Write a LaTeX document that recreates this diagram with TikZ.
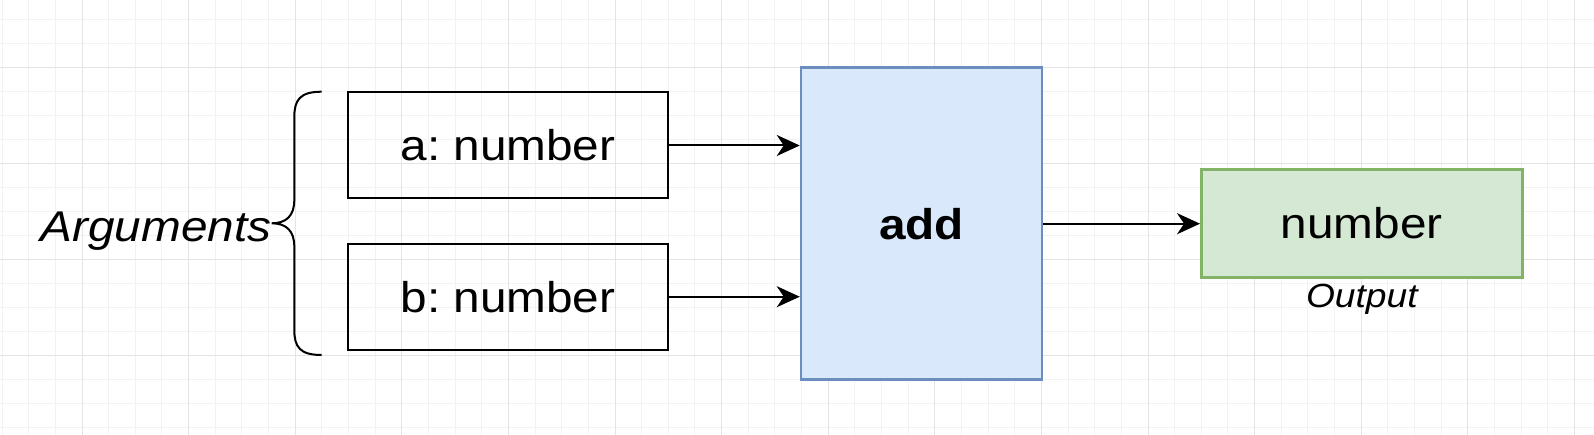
\documentclass[tikz,border=0pt]{standalone}
\usepackage{fontspec}
\setmainfont{Liberation Sans}
\usetikzlibrary{arrows.meta,positioning}

\definecolor{addfill}{HTML}{DAE8FC}
\definecolor{addline}{HTML}{6C8EBF}
\definecolor{outfill}{HTML}{D5E8D4}
\definecolor{outline}{HTML}{82B366}
\definecolor{gridminor}{HTML}{F2F2F2}
\definecolor{gridmajor}{HTML}{E4E4E4}

% screenshot is a bit wider than tall
\newcommand{\stretchx}[1]{\scalebox{1.11}[1]{#1}}
\frenchspacing

\begin{document}
\begin{tikzpicture}[
    x=1pt, y=-1pt,
    bigfont/.style={font=\fontsize{43}{50}\selectfont},
    argbox/.style={draw, line width=2pt, minimum width=320pt,
                   minimum height=106pt, bigfont},
    funcbox/.style={draw=addline, fill=addfill, line width=2.5pt,
                    minimum width=241pt, minimum height=312pt,
                    font=\fontsize{43}{50}\selectfont\bfseries},
    outbox/.style={draw=outline, fill=outfill, line width=2.5pt,
                   minimum width=321pt, minimum height=108pt, bigfont},
    arr/.style={-{Stealth[length=23pt,width=21pt,inset=7pt]}, line width=2pt},
    tag/.style={inner sep=0pt, font=\fontsize{33.5}{40}\selectfont\itshape}
  ]
    \useasboundingbox[fill=white] (0,0) rectangle (1594,435);

    % grid
    \foreach \i in {0,...,59}
      \draw[gridminor, line width=1pt] ({2.06+26.65*\i},0) -- ++(0,435);
    \foreach \j in {0,...,17}
      \draw[gridminor, line width=1pt] (0,{19.5+24*\j}) -- ++(1594,0);
    \foreach \i in {0,...,14}
      \draw[gridmajor, line width=1pt] ({82+106.6*\i},0) -- ++(0,435);
    \foreach \j in {0,...,3}
      \draw[gridmajor, line width=1pt] (0,{67.5+96*\j}) -- ++(1594,0);

    \node[argbox]  (a)   at (508,145.5)   {\stretchx{a: number}};
    \node[argbox]  (b)   at (508,296.7)   {\stretchx{b: number}};
    \node[funcbox] (add) at (921.5,223.7) {\stretchx{add}};
    \node[outbox]  (out) at (1361.8,223.5) {\stretchx{number}};
    \node[tag, anchor=base] (outtag) at ([yshift=-29pt]out.south) {\stretchx{Output}};

    \draw[arr] (a.east) -- (a.east -| add.west);
    \draw[arr] (b.east) -- (b.east -| add.west);
    \draw[arr] (add.east) -- (add.east -| out.west);

    % curly bracket round the two arguments
    \coordinate (tip) at (271.7,223.3);
    \draw[line width=2pt]
      (321.7,91.7) .. controls (300,91.7) and (294.3,100) .. (294.3,117)
      -- (294.3,200) .. controls (294.3,216) and (286,223.3) .. (tip)
      .. controls (286,223.3) and (294.3,230.6) .. (294.3,246.6)
      -- (294.3,330) .. controls (294.3,347) and (300,355) .. (321.7,355);
    \node[tag, font=\fontsize{43}{50}\selectfont\itshape, anchor=base east]
      (args) at ([yshift=-18.4pt]tip) {\stretchx{Arguments}};
  \end{tikzpicture}
\end{document}
